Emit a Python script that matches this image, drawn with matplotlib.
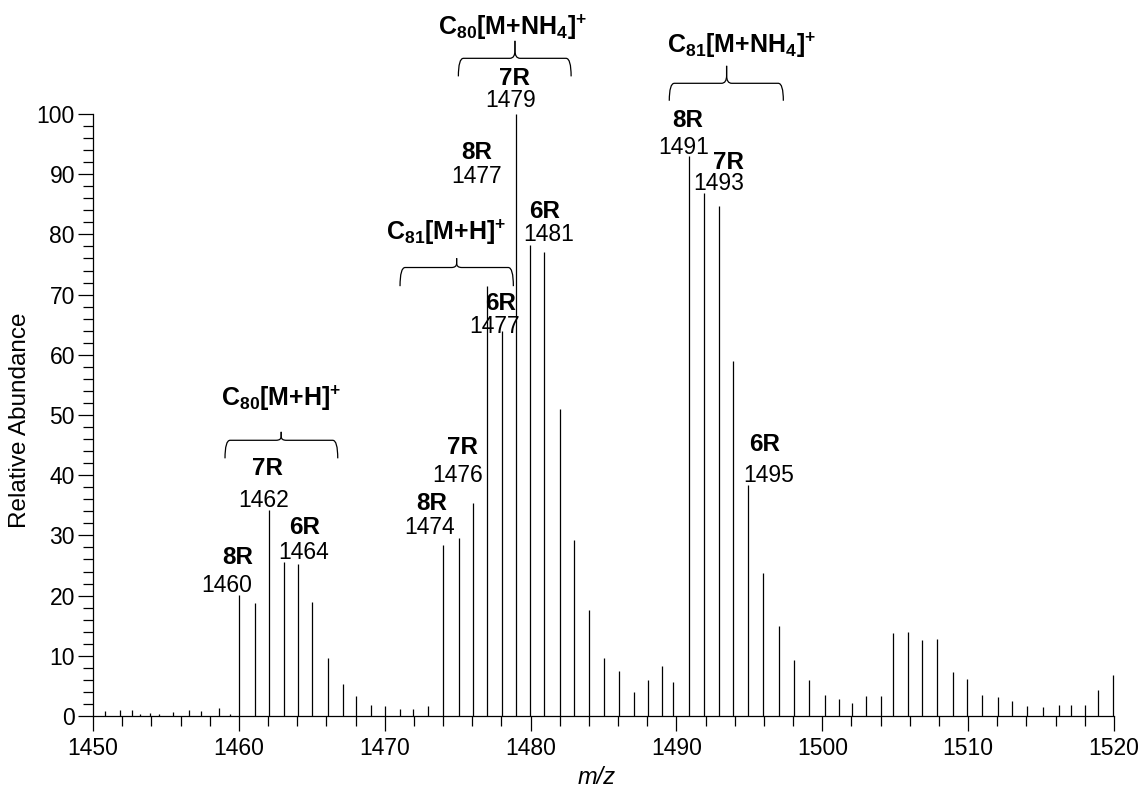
import numpy as np
import matplotlib
matplotlib.use("Agg")
import matplotlib.pyplot as plt
from matplotlib.path import Path
from matplotlib.patches import PathPatch
from matplotlib.ticker import MultipleLocator

plt.rcParams["font.family"] = ["Liberation Sans", "DejaVu Sans"]
plt.rcParams["mathtext.fontset"] = "custom"
plt.rcParams["mathtext.rm"] = "Liberation Sans"
plt.rcParams["mathtext.bf"] = "Liberation Sans:bold"
plt.rcParams["mathtext.it"] = "Liberation Sans:italic"

# centroided spectrum
MZ = [1450.84, 1451.85, 1452.67, 1453.22, 1453.89, 1454.55, 1455.46, 1456.60, 1457.40,
      1458.62, 1459.39, 1460.01, 1461.11, 1462.09, 1463.07, 1464.05, 1465.04, 1466.11,
      1467.12, 1468.05, 1469.04, 1470.04, 1471.05, 1471.94, 1472.97, 1474.02, 1475.11,
      1476.07, 1477.03, 1478.02, 1479.00, 1479.98, 1480.94, 1482.00, 1482.96, 1484.03,
      1485.01, 1486.04, 1487.11, 1488.07, 1489.01, 1489.78, 1490.86, 1491.92, 1492.90,
      1493.88, 1494.91, 1495.94, 1497.00, 1498.03, 1499.09, 1500.16, 1501.15, 1502.01,
      1503.00, 1504.04, 1504.83, 1505.86, 1506.84, 1507.88, 1508.96, 1509.94, 1510.93,
      1512.05, 1513.03, 1514.01, 1515.13, 1516.25, 1517.03, 1518.03, 1518.88, 1519.91]
ABUND = [0.9, 1.0, 1.0, 0.3, 0.5, 0.4, 0.7, 1.0, 0.8,
         1.3, 0.3, 20.1, 18.7, 34.3, 25.6, 25.2, 18.9, 9.6,
         5.3, 3.3, 1.8, 1.7, 1.2, 1.2, 1.6, 28.4, 29.6,
         35.4, 71.4, 63.9, 100.0, 78.3, 77.0, 51.0, 29.2, 17.6,
         9.6, 7.4, 4.0, 6.0, 8.3, 5.6, 93.0, 86.8, 84.7,
         59.0, 38.4, 23.7, 14.9, 9.3, 5.9, 3.5, 2.8, 2.2,
         3.3, 3.3, 13.8, 13.9, 12.6, 12.8, 7.3, 6.1, 3.5,
         3.2, 2.5, 1.7, 1.5, 1.8, 1.8, 1.8, 4.4, 6.8]

# ring-count tags and nominal masses
TAGS = ["8R", "7R", "6R", "8R", "7R", "6R", "8R", "7R", "6R", "8R", "7R", "6R"]
MASSES = ["1460", "1462", "1464", "1474", "1476", "1477",
          "1477", "1479", "1481", "1491", "1493", "1495"]
TAG_X = [1459.9, 1461.95, 1464.53, 1473.22, 1475.35, 1477.97,
         1476.3, 1478.88, 1480.94, 1490.77, 1493.6, 1496.07]
TAG_Y = [25.3, 40.1, 30.3, 34.2, 43.6, 67.4, 92.5, 104.9, 82.8, 97.9, 90.8, 44.0]
MASS_X = [1459.19, 1461.73, 1464.42, 1473.06, 1474.98, 1477.56,
          1476.28, 1478.63, 1481.26, 1490.47, 1492.92, 1496.3]
MASS_Y = [20.6, 34.8, 26.0, 30.2, 38.8, 63.7, 88.6, 101.1, 78.9, 93.3, 87.4, 38.9]

# ion series with their braces
IONS = [r"$\mathbf{C}_{\mathbf{80}}\mathbf{[M{+}H]}^{\mathbf{+}}$",
        r"$\mathbf{C}_{\mathbf{81}}\mathbf{[M{+}H]}^{\mathbf{+}}$",
        r"$\mathbf{C}_{\mathbf{80}}\mathbf{[M{+}NH}_{\mathbf{4}}\mathbf{]}^{\mathbf{+}}$",
        r"$\mathbf{C}_{\mathbf{81}}\mathbf{[M{+}NH}_{\mathbf{4}}\mathbf{]}^{\mathbf{+}}$"]
BRACE_X0 = [1459.05, 1471.05, 1475.05, 1489.51]
BRACE_X1 = [1466.78, 1478.82, 1482.78, 1497.33]
BRACE_XC = [1462.9, 1474.93, 1478.93, 1493.44]
BRACE_Y = [45.8, 74.5, 109.25, 105.1]
BRACE_DROP = [3.0, 3.1, 3.0, 2.9]
BRACE_RISE = [1.4, 1.55, 2.9, 2.9]
ION_X = [1462.9, 1474.19, 1478.76, 1494.47]
ION_Y = [51.5, 79.0, 113.1, 110.1]


def brace(ax, x0, x1, xc, y, drop, rise, r=0.35):
    for xe, s in ((x0, 1), (x1, -1)):
        verts = [(xe, y - drop), (xe, y), (xe + s * r, y),
                 (xc - s * r, y), (xc, y), (xc, y + rise * 0.45),
                 (xc, y + rise)]
        codes = [Path.MOVETO, Path.CURVE3, Path.CURVE3,
                 Path.LINETO, Path.CURVE3, Path.CURVE3, Path.LINETO]
        ax.add_patch(PathPatch(Path(verts, codes), fill=False, lw=0.9,
                               edgecolor="black", clip_on=False))


fig = plt.figure(figsize=(11.38, 7.88), dpi=100)
ax = fig.add_axes([93 / 1138, 1 - 716 / 788, 1021 / 1138, 602 / 788])

ax.vlines(MZ, 0, ABUND, color="black", lw=0.9, clip_on=False)

for tag, m, tx, ty, mx, my in zip(TAGS, MASSES, TAG_X, TAG_Y, MASS_X, MASS_Y):
    ax.text(tx, ty, tag, ha="center", va="baseline", fontsize=17.5, fontweight="bold")
    ax.text(mx, my, m, ha="center", va="baseline", fontsize=16.5)

for name, x0, x1, xc, y, d, r, lx, ly in zip(IONS, BRACE_X0, BRACE_X1, BRACE_XC, BRACE_Y,
                                              BRACE_DROP, BRACE_RISE, ION_X, ION_Y):
    brace(ax, x0, x1, xc, y, d, r)
    ax.text(lx, ly, name, ha="center", va="baseline", fontsize=18)

ax.set_xlim(1450, 1520)
ax.set_ylim(0, 100)
ax.xaxis.set_major_locator(MultipleLocator(10))
ax.xaxis.set_minor_locator(MultipleLocator(2))
ax.yaxis.set_major_locator(MultipleLocator(10))
ax.yaxis.set_minor_locator(MultipleLocator(2))
ax.tick_params(which="major", direction="out", length=11, width=0.9, labelsize=16.5, pad=4)
ax.tick_params(which="minor", direction="out", length=7, width=0.9)
ax.tick_params(axis="y", which="major", pad=2)
for s in ("top", "right"):
    ax.spines[s].set_visible(False)
for s in ("left", "bottom"):
    ax.spines[s].set_linewidth(0.9)

fig.text(20 / 1138, 1 - 420 / 788, "Relative Abundance", rotation=90,
         ha="center", va="center", fontsize=17.5)
fig.text(597 / 1138, 1 - 777 / 788, "m/z", style="italic",
         ha="center", va="center", fontsize=17)

fig.savefig("out.png", dpi=100)
